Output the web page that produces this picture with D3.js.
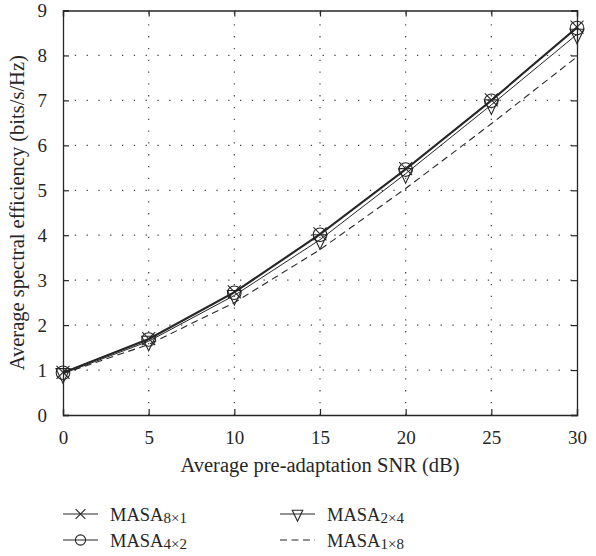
<!DOCTYPE html>
<html><head><meta charset="utf-8">
<script src="https://cdn.jsdelivr.net/npm/d3@7"></script>
<style>body{margin:0;background:#fff}svg{display:block}</style>
</head><body>
<svg id="c" width="596" height="556"></svg>
<script>
const snr = [0, 5, 10, 15, 20, 25, 30];
const masa8x1 = [0.95, 1.70, 2.74, 4.03, 5.48, 7.01, 8.63];
const masa4x2 = [0.94, 1.68, 2.72, 4.01, 5.46, 6.99, 8.61];
const masa2x4 = [0.92, 1.64, 2.66, 3.90, 5.37, 6.90, 8.47];
const masa1x8 = [0.92, 1.57, 2.50, 3.68, 5.04, 6.48, 7.97];
const xTicks = [0, 5, 10, 15, 20, 25, 30];
const yTicks = [0, 1, 2, 3, 4, 5, 6, 7, 8, 9];
const seriesNames = ["8×1", "4×2", "2×4", "1×8"];

const svg = d3.select("#c");
const L = 63, R = 577, T = 10.5, B = 415;
const x = d3.scaleLinear().domain([0, 30]).range([L, R]);
const y = d3.scaleLinear().domain([0, 9]).range([B, T]);
const font = "'Liberation Serif', 'Times New Roman', serif";
const ink = "#262626";

// grid
const g = svg.append("g");
g.selectAll(".gx").data(xTicks.slice(1, -1)).join("line")
  .attr("x1", d => x(d)).attr("x2", d => x(d)).attr("y1", B).attr("y2", T)
  .attr("stroke", "#444").attr("stroke-width", 1.2).attr("stroke-dasharray", "1.3,10.5");
g.selectAll(".gy").data(yTicks.slice(1, -1)).join("line")
  .attr("y1", d => y(d)).attr("y2", d => y(d)).attr("x1", L).attr("x2", R)
  .attr("stroke", "#444").attr("stroke-width", 1.2).attr("stroke-dasharray", "1.3,10.5");

// axes
const axB = d3.axisBottom(x).tickValues(xTicks).tickSize(-6).tickPadding(16).tickFormat(d3.format("d"));
const axL = d3.axisLeft(y).tickValues(yTicks).tickSize(-6).tickPadding(16).tickFormat(d3.format("d"));
const axT = d3.axisTop(x).tickValues(xTicks).tickSize(-6).tickFormat("");
const axR = d3.axisRight(y).tickValues(yTicks).tickSize(-6).tickFormat("");
function style(sel) {
  sel.select(".domain").attr("stroke", ink).attr("stroke-width", 1.3);
  sel.selectAll(".tick line").attr("stroke", ink).attr("stroke-width", 1.2);
  sel.selectAll("text").attr("fill", ink).style("font-family", font).style("font-size", "19px");
}
svg.append("g").attr("transform", `translate(0,${B})`).call(axB).call(style);
svg.append("g").attr("transform", `translate(${L},0)`).call(axL).call(style);
svg.append("g").attr("transform", `translate(0,${T})`).call(axT).call(style);
svg.append("g").attr("transform", `translate(${R},0)`).call(axR).call(style);

// titles
svg.append("text").attr("x", (L + R) / 2).attr("y", 472).attr("text-anchor", "middle")
  .style("font-family", font).style("font-size", "20.5px").attr("fill", ink)
  .text("Average pre-adaptation SNR (dB)");
svg.append("text").attr("transform", `translate(24,${(T + B) / 2}) rotate(-90)`).attr("text-anchor", "middle")
  .style("font-family", font).style("font-size", "20.5px").attr("fill", ink)
  .text("Average spectral efficiency (bits/s/Hz)");

// lines
const line = d3.line().x((d, i) => x(snr[i])).y(d => y(d));
const series = [
  { v: masa8x1, w: 1.4, dash: null, m: "x" },
  { v: masa4x2, w: 1.4, dash: null, m: "o" },
  { v: masa2x4, w: 1.0, dash: null, m: "v" },
  { v: masa1x8, w: 1.1, dash: "7,4.5", m: null }
];
const lg = svg.append("g");
series.forEach(s => {
  lg.append("path").datum(s.v).attr("d", line).attr("fill", "none")
    .attr("stroke", ink).attr("stroke-width", s.w).attr("stroke-dasharray", s.dash);
});

function marker(sel, type, cx, cy, k) {
  const gg = sel.append("g").attr("transform", `translate(${cx},${cy})`)
    .attr("fill", "none").attr("stroke", ink).attr("stroke-width", 1.1);
  if (type === "x") {
    const a = 6.5 * k;
    gg.append("path").attr("d", `M${-a},${-a}L${a},${a}M${-a},${a}L${a},${-a}`);
  } else if (type === "o") {
    gg.append("circle").attr("r", 6.8 * k);
  } else if (type === "v") {
    const w = 7 * k, h1 = 5 * k, h2 = 9.5 * k;
    gg.append("path").attr("d", `M${-w},${-h1}L${w},${-h1}L0,${h2}Z`);
  }
}
series.forEach(s => {
  if (!s.m) return;
  s.v.forEach((d, i) => marker(lg, s.m, x(snr[i]), y(d), 1));
});

// legend
const leg = svg.append("g");
const legPos = [[63, 514], [63, 540], [280, 514], [280, 540]];
[0, 1, 2, 3].forEach((si, j) => {
  const s = series[si];
  const [lx, ly] = legPos[j];
  leg.append("line").attr("x1", lx).attr("x2", lx + 35).attr("y1", ly).attr("y2", ly)
    .attr("stroke", ink).attr("stroke-width", s.dash ? 1.1 : 1.2).attr("stroke-dasharray", s.dash);
  if (s.m) marker(leg, s.m, lx + 17.5, ly, 0.75);
  const t = leg.append("text").attr("x", lx + 47).attr("y", ly + 6.5)
    .style("font-family", font).style("font-size", "18.5px").attr("fill", ink);
  t.append("tspan").text("MASA");
  t.append("tspan").attr("dy", 2.5).style("font-size", "15px").text(seriesNames[si]);
});
</script>
</body></html>
